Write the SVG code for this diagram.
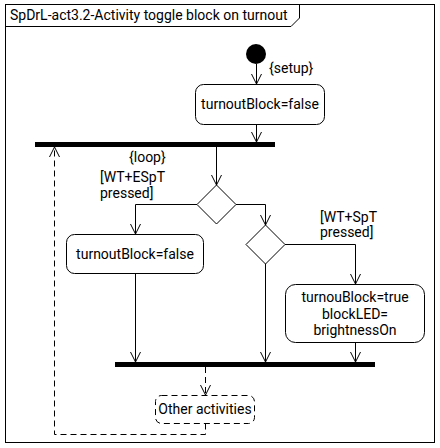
<svg xmlns="http://www.w3.org/2000/svg" width="440" height="448" viewBox="0 0 440 448">
<defs>
<style>
text{font-family:Roboto,"Liberation Sans",sans-serif;font-size:14px;fill:#000}
.c{text-anchor:middle}
.ln{fill:none;stroke:#000;stroke-width:1}
.d{stroke-dasharray:6,4}
.act{fill:#fff;stroke:#000;stroke-width:1}
</style>
<marker id="ah" markerUnits="userSpaceOnUse" markerWidth="14" markerHeight="14" viewBox="-11 -7 12 14" refX="0" refY="0" orient="auto">
<path d="M-10,-5 L0,0 L-10,5" fill="none" stroke="#000" stroke-width="1"/>
</marker>
</defs>
<rect x="0" y="0" width="440" height="448" fill="#fff"/>
<g id="frame">
<rect x="5.5" y="4.5" width="429" height="438" fill="none" stroke="#000"/>
<path d="M5.5,26.5 H291 L299.5,18 V4.5" fill="none" stroke="#000"/>
<text x="10" y="20">SpDrL-act3.2-Activity toggle block on turnout</text>
</g>
<g id="connectors">
<path class="ln" d="M256.5,64 V84" marker-end="url(#ah)"/>
<path class="ln" d="M256.5,124.5 V142" marker-end="url(#ah)"/>
<path class="ln" d="M216.5,147 V185" marker-end="url(#ah)"/>
<path class="ln" d="M197,204.5 H135.5 V234" marker-end="url(#ah)"/>
<path class="ln" d="M236,204.5 H265.5 V225" marker-end="url(#ah)"/>
<path class="ln" d="M285,244.5 H355.5 V284" marker-end="url(#ah)"/>
<path class="ln" d="M135.5,273.5 V362" marker-end="url(#ah)"/>
<path class="ln" d="M265.5,264 V362" marker-end="url(#ah)"/>
<path class="ln" d="M355.5,342.5 V362" marker-end="url(#ah)"/>
<path class="ln d" d="M205.5,367 V395" marker-end="url(#ah)"/>
<path class="ln d" d="M205.5,423.5 V434.5 H54.5 V147" marker-end="url(#ah)"/>
<text x="269" y="73">{setup}</text>
<text x="129" y="162">{loop}</text>
<text x="100" y="182">[WT+ESpT</text>
<text x="100" y="198">pressed]</text>
<text x="320" y="222">[WT+SpT</text>
<text x="320" y="237">pressed]</text>
</g>
<g id="start"><circle cx="256" cy="54" r="10" fill="#000"/></g>
<g id="setupBlock">
<rect class="act" x="195.5" y="84.5" width="129" height="40" rx="8"/>
<text class="c" x="260" y="109">turnoutBlock=false</text>
</g>
<g id="forkTop"><rect x="35" y="142" width="240" height="5" fill="#000"/></g>
<g id="decision1"><polygon class="act" points="216.5,185 236,204.5 216.5,224 197,204.5"/></g>
<g id="unblock">
<rect class="act" x="66.5" y="234.5" width="137" height="39" rx="8"/>
<text class="c" x="135" y="259">turnoutBlock=false</text>
</g>
<g id="decision2"><polygon class="act" points="265.5,225 285,244.5 265.5,264 246,244.5"/></g>
<g id="block">
<rect class="act" x="285.5" y="284.5" width="139" height="58" rx="10"/>
<text class="c" x="355" y="302">turnouBlock=true</text>
<text class="c" x="355" y="319">blockLED=</text>
<text class="c" x="355" y="335">brightnessOn</text>
</g>
<g id="joinBottom"><rect x="115" y="362" width="260" height="5" fill="#000"/></g>
<g id="other">
<rect class="act d" x="155.5" y="395.5" width="99" height="28" rx="6"/>
<text class="c" x="205" y="414">Other activities</text>
</g>
</svg>
